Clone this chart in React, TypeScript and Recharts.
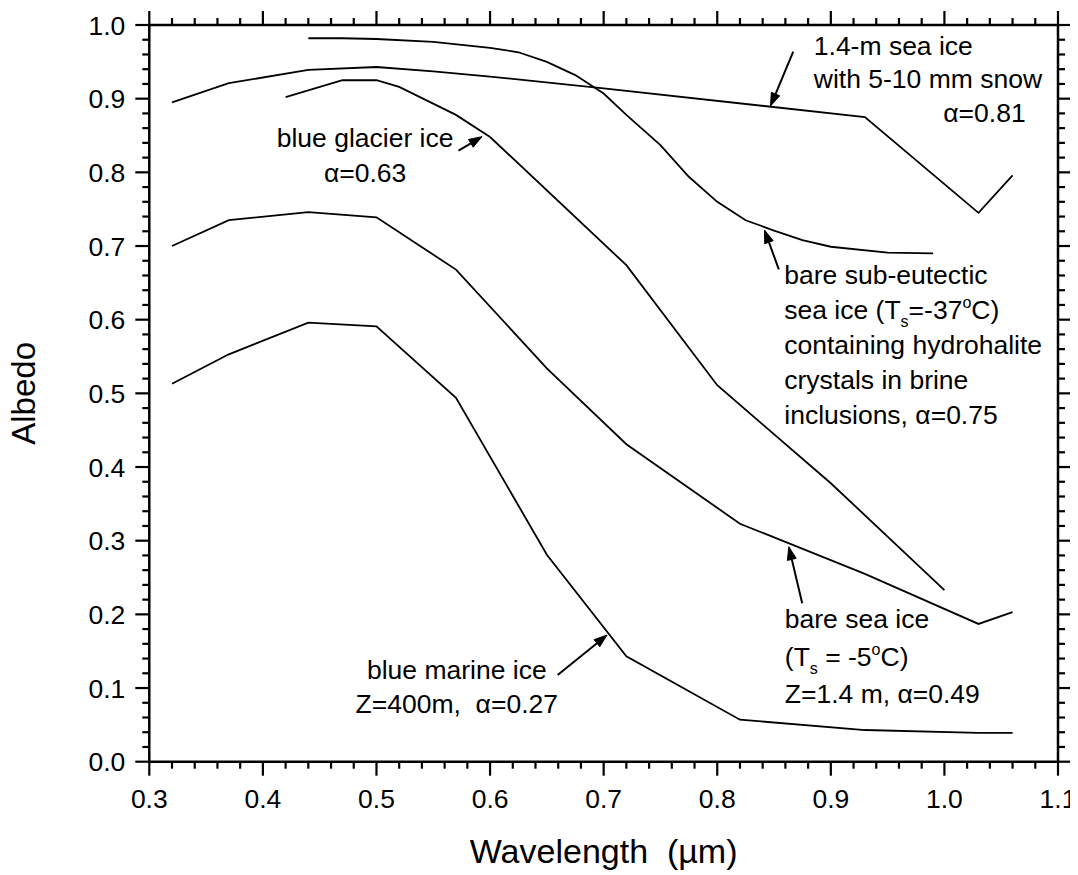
import React from 'react';
import { LineChart, Line, XAxis, YAxis, ReferenceDot, ReferenceLine, Label } from 'recharts';

const FONT = '"Liberation Sans", Arial, Helvetica, sans-serif';

// ---- axis ticks ----
const xMajorTicks = [0.3, 0.4, 0.5, 0.6, 0.7, 0.8, 0.9, 1.0, 1.1];
const xTickLabels = ['0.3', '0.4', '0.5', '0.6', '0.7', '0.8', '0.9', '1.0', '1.1'];
const yMajorTicks = [0, 0.1, 0.2, 0.3, 0.4, 0.5, 0.6, 0.7, 0.8, 0.9, 1.0];
const yTickLabels = ['0.0', '0.1', '0.2', '0.3', '0.4', '0.5', '0.6', '0.7', '0.8', '0.9', '1.0'];
const minorStep = 0.02;

// ---- series data (wavelength in µm, albedo) ----
const snowWavelength = [0.32, 0.37, 0.44, 0.5, 0.55, 0.6, 0.7, 0.93, 1.03, 1.06];
const snowAlbedo = [0.895, 0.921, 0.939, 0.943, 0.937, 0.93, 0.914, 0.875, 0.745, 0.796];

const subEutecticWavelength = [0.44, 0.47, 0.5, 0.55, 0.575, 0.6, 0.625, 0.65, 0.675, 0.7, 0.72, 0.75, 0.775, 0.8, 0.825, 0.85, 0.875, 0.9, 0.95, 0.99];
const subEutecticAlbedo = [0.982, 0.982, 0.981, 0.977, 0.973, 0.969, 0.963, 0.95, 0.932, 0.907, 0.878, 0.837, 0.794, 0.76, 0.735, 0.721, 0.708, 0.699, 0.691, 0.69];

const glacierWavelength = [0.42, 0.47, 0.5, 0.52, 0.57, 0.6, 0.72, 0.8, 0.9, 1.0];
const glacierAlbedo = [0.902, 0.925, 0.925, 0.916, 0.878, 0.848, 0.674, 0.511, 0.378, 0.233];

const bareSeaIceWavelength = [0.32, 0.37, 0.44, 0.5, 0.57, 0.65, 0.72, 0.82, 0.93, 1.03, 1.06];
const bareSeaIceAlbedo = [0.7, 0.735, 0.746, 0.739, 0.668, 0.534, 0.431, 0.323, 0.255, 0.187, 0.203];

const marineWavelength = [0.32, 0.37, 0.44, 0.5, 0.57, 0.65, 0.72, 0.82, 0.93, 1.03, 1.06];
const marineAlbedo = [0.513, 0.553, 0.596, 0.591, 0.494, 0.281, 0.143, 0.057, 0.043, 0.039, 0.039];

const toRows = (xs: number[], ys: number[]) => xs.map((x, i) => ({ x, a: ys[i] }));

const seriesList = [
  { name: 'snow', rows: toRows(snowWavelength, snowAlbedo) },
  { name: 'subEutectic', rows: toRows(subEutecticWavelength, subEutecticAlbedo) },
  { name: 'glacier', rows: toRows(glacierWavelength, glacierAlbedo) },
  { name: 'bareSeaIce', rows: toRows(bareSeaIceWavelength, bareSeaIceAlbedo) },
  { name: 'marine', rows: toRows(marineWavelength, marineAlbedo) },
];

// ---- annotation texts ----
type Seg = { t: string; k?: 'sub' | 'sup' };
const notes: { lines: Seg[][]; x: number; y: number; anchor: 'start' | 'middle' | 'end'; lh: number }[] = [
  { lines: [[{ t: '1.4-m sea ice' }], [{ t: 'with 5-10 mm snow' }]], x: 0.885, y: 0.959, anchor: 'start', lh: 32.5 },
  { lines: [[{ t: 'α=0.81' }]], x: 1.0715, y: 0.869, anchor: 'end', lh: 33 },
  { lines: [[{ t: 'blue glacier ice' }], [{ t: 'α=0.63' }]], x: 0.49, y: 0.835, anchor: 'middle', lh: 35 },
  {
    lines: [
      [{ t: 'bare sub-eutectic' }],
      [{ t: 'sea ice (T' }, { t: 's', k: 'sub' }, { t: '=-37' }, { t: 'o', k: 'sup' }, { t: 'C)' }],
      [{ t: 'containing hydrohalite' }],
      [{ t: 'crystals in brine' }],
      [{ t: 'inclusions, α=0.75' }],
    ],
    x: 0.859, y: 0.649, anchor: 'start', lh: 35.2,
  },
  {
    lines: [
      [{ t: 'bare sea ice' }],
      [{ t: '(T' }, { t: 's', k: 'sub' }, { t: ' = -5' }, { t: 'o', k: 'sup' }, { t: 'C)' }],
      [{ t: 'Z=1.4 m, α=0.49' }],
    ],
    x: 0.8595, y: 0.181, anchor: 'start', lh: 37.2,
  },
  { lines: [[{ t: 'blue marine ice' }], [{ t: 'Z=400m,  α=0.27' }]], x: 0.5707, y: 0.112, anchor: 'middle', lh: 34 },
];

// arrows: tail -> tip
const arrows = [
  { from: { x: 0.8669, y: 0.9638 }, to: { x: 0.8469, y: 0.89 } },
  { from: { x: 0.5722, y: 0.8294 }, to: { x: 0.5929, y: 0.8484 } },
  { from: { x: 0.8542, y: 0.6684 }, to: { x: 0.8416, y: 0.7217 } },
  { from: { x: 0.8748, y: 0.215 }, to: { x: 0.863, y: 0.2918 } },
  { from: { x: 0.6595, y: 0.1177 }, to: { x: 0.703, y: 0.172 } },
];

const round2 = (v: number) => Math.round(v * 100) / 100;
const xAllTicks: number[] = [];
for (let i = 0; i <= Math.round((1.1 - 0.3) / minorStep); i++) xAllTicks.push(round2(0.3 + i * minorStep));
const yAllTicks: number[] = [];
for (let i = 0; i <= Math.round(1 / minorStep); i++) yAllTicks.push(round2(i * minorStep));

const majorIndex = (majors: number[], v: number) => majors.findIndex((m) => Math.abs(m - v) < 1e-6);

const MAJOR = 14;
const MINOR = 7;
const TICK_FS = 26.5;
const NOTE_FS = 26.5;
const TICK_W = 2.2;
const AXIS_W = 2.5;

const BottomTick = (p: any) => {
  const { x, y, payload } = p;
  const idx = majorIndex(xMajorTicks, payload.value);
  return (
    <g>
      <line x1={x} y1={y} x2={x} y2={y + (idx >= 0 ? MAJOR : MINOR)} stroke="#000" strokeWidth={TICK_W} />
      {idx >= 0 && (
        <text x={x} y={y + 46} textAnchor="middle" fontSize={TICK_FS} fontFamily={FONT} fill="#000">
          {xTickLabels[idx]}
        </text>
      )}
    </g>
  );
};

const TopTick = (p: any) => {
  const { x, y, payload } = p;
  const idx = majorIndex(xMajorTicks, payload.value);
  return <line x1={x} y1={y} x2={x} y2={y - (idx >= 0 ? MAJOR : MINOR)} stroke="#000" strokeWidth={TICK_W} />;
};

const LeftTick = (p: any) => {
  const { x, y, payload } = p;
  const idx = majorIndex(yMajorTicks, payload.value);
  return (
    <g>
      <line x1={x} y1={y} x2={x - (idx >= 0 ? MAJOR : MINOR)} y2={y} stroke="#000" strokeWidth={TICK_W} />
      {idx >= 0 && (
        <text x={x - 24} y={y + 9.5} textAnchor="end" fontSize={TICK_FS} fontFamily={FONT} fill="#000">
          {yTickLabels[idx]}
        </text>
      )}
    </g>
  );
};

const RightTick = (p: any) => {
  const { x, y, payload } = p;
  const idx = majorIndex(yMajorTicks, payload.value);
  return <line x1={x} y1={y} x2={x + (idx >= 0 ? MAJOR : MINOR)} y2={y} stroke="#000" strokeWidth={TICK_W} />;
};

const renderNote = (note: (typeof notes)[number]) => (p: any) => {
  const { cx, cy } = p;
  return (
    <text
      x={cx}
      y={cy}
      textAnchor={note.anchor}
      fontSize={NOTE_FS}
      fontFamily={FONT}
      fill="#000"
      style={{ whiteSpace: 'pre' }}
    >
      {note.lines.map((segs, li) => {
        let shift = 0;
        return (
          <tspan key={li} x={cx} y={cy + li * note.lh}>
            {segs.map((s, si) => {
              let dy = 0;
              let fs = NOTE_FS;
              if (s.k === 'sub') {
                dy = 8 - shift;
                shift = 8;
                fs = 16;
              } else if (s.k === 'sup') {
                dy = -11 - shift;
                shift = -11;
                fs = 16;
              } else {
                dy = -shift;
                shift = 0;
              }
              return (
                <tspan key={si} dy={dy} fontSize={fs}>
                  {s.t}
                </tspan>
              );
            })}
          </tspan>
        );
      })}
    </text>
  );
};

const ArrowShape = (p: any) => {
  const { x1, y1, x2, y2 } = p;
  const dx = x2 - x1;
  const dy = y2 - y1;
  const len = Math.sqrt(dx * dx + dy * dy) || 1;
  const ux = dx / len;
  const uy = dy / len;
  const hl = 13;
  const hw = 4.5;
  const bx = x2 - ux * hl;
  const by = y2 - uy * hl;
  const pts = `${x2},${y2} ${bx - uy * hw},${by + ux * hw} ${bx + uy * hw},${by - ux * hw}`;
  return (
    <g>
      <line x1={x1} y1={y1} x2={bx} y2={by} stroke="#000" strokeWidth={2} />
      <polygon points={pts} fill="#000" stroke="#000" strokeWidth={1} />
    </g>
  );
};

export default function App() {
  return (
    <LineChart width={1070} height={867} margin={{ top: 7, right: 10, left: 81.3, bottom: 13.3 }}>
      <XAxis
        xAxisId={0}
        type="number"
        dataKey="x"
        domain={[0.3, 1.1]}
        allowDataOverflow
        ticks={xAllTicks}
        interval={0}
        tickSize={0}
        tickMargin={0}
        tickLine={false}
        tick={<BottomTick />}
        axisLine={{ stroke: '#000', strokeWidth: AXIS_W }}
        height={100}
      >
        <Label
          content={(lp: any) => {
            const vb = lp.viewBox || { x: 0, y: 0, width: 0 };
            return (
              <text
                x={vb.x + vb.width / 2}
                y={vb.y + 101}
                textAnchor="middle"
                fontSize={34}
                fontFamily={FONT}
                fill="#000"
                style={{ whiteSpace: 'pre' }}
              >
                {'Wavelength  (µm)'}
              </text>
            );
          }}
        />
      </XAxis>
      <XAxis
        xAxisId="top"
        orientation="top"
        type="number"
        dataKey="x"
        domain={[0.3, 1.1]}
        allowDataOverflow
        ticks={xAllTicks}
        interval={0}
        tickSize={0}
        tickMargin={0}
        tickLine={false}
        tick={<TopTick />}
        axisLine={{ stroke: '#000', strokeWidth: AXIS_W }}
        height={10}
      />
      <YAxis
        yAxisId={0}
        type="number"
        domain={[0, 1]}
        allowDataOverflow
        ticks={yAllTicks}
        interval={0}
        tickSize={0}
        tickMargin={0}
        tickLine={false}
        tick={<LeftTick />}
        axisLine={{ stroke: '#000', strokeWidth: AXIS_W }}
        width={60}
      >
        <Label
          content={(lp: any) => {
            const vb = lp.viewBox || { x: 0, y: 0, width: 0, height: 0 };
            const cx = vb.x + vb.width - 114.3;
            const cy = vb.y + vb.height / 2;
            return (
              <text
                x={cx}
                y={cy}
                transform={`rotate(-90 ${cx} ${cy})`}
                textAnchor="middle"
                fontSize={33}
                fontFamily={FONT}
                fill="#000"
              >
                Albedo
              </text>
            );
          }}
        />
      </YAxis>
      <YAxis
        yAxisId="right"
        orientation="right"
        type="number"
        domain={[0, 1]}
        allowDataOverflow
        ticks={yAllTicks}
        interval={0}
        tickSize={0}
        tickMargin={0}
        tickLine={false}
        tick={<RightTick />}
        axisLine={{ stroke: '#000', strokeWidth: AXIS_W }}
        width={10}
      />
      {seriesList.map((s) => (
        <Line
          key={s.name}
          data={s.rows}
          dataKey="a"
          type="linear"
          stroke="#000"
          strokeWidth={1.8}
          dot={false}
          activeDot={false}
          isAnimationActive={false}
        />
      ))}
      {arrows.map((a, i) => (
        <ReferenceLine key={'ar' + i} segment={[a.from, a.to]} shape={ArrowShape} ifOverflow="visible" />
      ))}
      {notes.map((n, i) => (
        <ReferenceDot key={'n' + i} x={n.x} y={n.y} r={0} shape={renderNote(n)} ifOverflow="visible" />
      ))}
    </LineChart>
  );
}
